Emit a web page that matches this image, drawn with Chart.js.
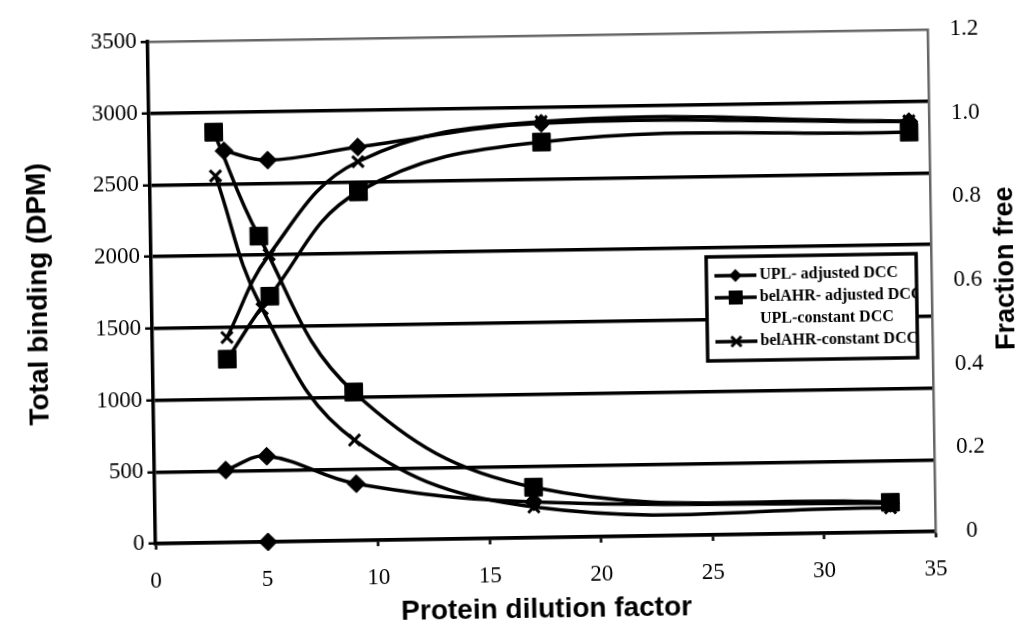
<!DOCTYPE html>
<html><head><meta charset="utf-8">
<script src="https://cdn.jsdelivr.net/npm/chart.js@4.4.1/dist/chart.umd.min.js"></script>
<style>
html,body{margin:0;padding:0;background:#fff;overflow:hidden}
#wrap{width:1028px;height:631px;transform:rotate(-0.9deg);transform-origin:514px 315.5px}
canvas{display:block;background:#fff}
</style></head><body>
<div id="wrap"><canvas id="c" width="1028" height="631"></canvas></div>
<script>
// ---- data ----
const xRange = [0, 35];
const xStep = 5;
const leftRange = [0, 3500];
const leftStep = 500;
const rightRange = [0, 1.2];
const rightStep = 0.2;

const legendLabels = ['UPL- adjusted DCC', 'belAHR- adjusted DCC', 'UPL-constant DCC', 'belAHR-constant DCC'];

// total binding (left axis, DPM)
const xUplAdjBinding = [3.2, 5.05, 9.05, 17, 33];
const uplAdjBinding  = [505, 597, 396, 250, 200];
const xBelAdjBinding = [2.9, 4.85, 9, 17, 33];
const belAdjBinding  = [2861, 2132, 1035, 352, 208];
const xUplConBinding = [5.05];
const uplConBinding  = [0];
const xBelConBinding = [2.95, 4.95, 9, 17, 33];
const belConBinding  = [2556, 1625, 700, 214, 169];

// fraction free (right axis)
const xFraction   = [3.35, 5.3, 9.35, 17.6, 34.1];
const uplAdjFree  = [0.936, 0.912, 0.94, 0.99, 0.98];
const belAdjFree  = [0.438, 0.587, 0.833, 0.945, 0.955];
const belConFree  = [0.49, 0.686, 0.905, 0.994, 0.982];

const pair = (xs, ys) => xs.map((x, i) => ({x: x, y: ys[i]}));

const markerStyles = [
  {pointStyle: 'rectRot', radius: 9, bw: 1},
  {pointStyle: 'rect', radius: 12.5, bw: 1},
  null,
  {pointStyle: 'crossRot', radius: 8, bw: 3}
];

function series(label, data, axis, m, showLine) {
  return {
    label: label, data: data, yAxisID: axis,
    showLine: showLine !== false, tension: 0.4,
    borderColor: '#000', backgroundColor: '#000', borderWidth: 3.5,
    pointStyle: m.pointStyle, pointRadius: m.radius, pointBorderWidth: m.bw,
    pointBackgroundColor: '#000', pointBorderColor: '#000', clip: false
  };
}

const datasets = [
  series(legendLabels[0], pair(xUplAdjBinding, uplAdjBinding), 'y', markerStyles[0]),
  series(legendLabels[1], pair(xBelAdjBinding, belAdjBinding), 'y', markerStyles[1]),
  series(legendLabels[2], pair(xUplConBinding, uplConBinding), 'y', markerStyles[0], false),
  series(legendLabels[3], pair(xBelConBinding, belConBinding), 'y', markerStyles[3]),
  series(legendLabels[0] + ' (fraction free)', pair(xFraction, uplAdjFree), 'y1', markerStyles[0]),
  series(legendLabels[1] + ' (fraction free)', pair(xFraction, belAdjFree), 'y1', markerStyles[1]),
  series(legendLabels[3] + ' (fraction free)', pair(xFraction, belConFree), 'y1', markerStyles[3])
];

function drawMarker(ctx, m, x, y) {
  ctx.save();
  ctx.fillStyle = '#000'; ctx.strokeStyle = '#000';
  ctx.beginPath();
  if (m.pointStyle === 'rectRot') {
    const r = m.radius;
    ctx.moveTo(x, y - r); ctx.lineTo(x + r, y); ctx.lineTo(x, y + r); ctx.lineTo(x - r, y); ctx.closePath(); ctx.fill();
  } else if (m.pointStyle === 'rect') {
    const h = m.radius;
    ctx.rect(x - h, y - h, 2 * h, 2 * h); ctx.fill();
  } else if (m.pointStyle === 'crossRot') {
    const r = m.radius;
    ctx.lineWidth = 3;
    ctx.moveTo(x - r, y - r); ctx.lineTo(x + r, y + r);
    ctx.moveTo(x + r, y - r); ctx.lineTo(x - r, y + r); ctx.stroke();
  }
  ctx.restore();
}

const legendMarkers = [
  {pointStyle: 'rectRot', radius: 6.5},
  {pointStyle: 'rect', radius: 7},
  null,
  {pointStyle: 'crossRot', radius: 5}
];

const boxLegend = {
  id: 'boxLegend',
  afterDatasetsDraw(chart) {
    const ctx = chart.ctx;
    const bx = 707, by = 260, bw = 210, bh = 104;
    ctx.save();
    ctx.fillStyle = '#fff';
    ctx.fillRect(bx, by, bw, bh);
    ctx.save();
    ctx.beginPath(); ctx.rect(bx, by, bw + 1, bh); ctx.clip();
    ctx.font = 'bold 16px "Liberation Serif"';
    ctx.fillStyle = '#000';
    ctx.textBaseline = 'middle';
    legendLabels.forEach((lab, i) => {
      const y = by + 19 + i * 22;
      const m = legendMarkers[i];
      if (m) {
        ctx.strokeStyle = '#000'; ctx.lineWidth = 3.5;
        ctx.beginPath(); ctx.moveTo(bx + 8, y); ctx.lineTo(bx + 50, y); ctx.stroke();
        drawMarker(ctx, m, bx + 29, y);
      }
      ctx.fillText(lab, bx + 53, y);
    });
    ctx.restore();
    ctx.lineWidth = 3.5; ctx.strokeStyle = '#000';
    ctx.strokeRect(bx, by, bw, bh);
    ctx.restore();
  }
};

const rightTitle = {
  id: 'rightTitle',
  afterDraw(chart) {
    const ctx = chart.ctx;
    ctx.save();
    ctx.translate(1007, 276);
    ctx.rotate(-Math.PI / 2);
    ctx.font = 'bold 27px "Liberation Sans"';
    ctx.fillStyle = '#000';
    ctx.textAlign = 'center';
    ctx.textBaseline = 'middle';
    ctx.fillText('Fraction free', 0, 0);
    ctx.restore();
  }
};

const tickFont = {family: '"Liberation Serif"', size: 23};
const titleFont = {family: '"Liberation Sans"', size: 28, weight: 'bold'};

new Chart(document.getElementById('c'), {
  type: 'scatter',
  data: {datasets: datasets},
  plugins: [boxLegend, rightTitle],
  options: {
    responsive: false, animation: false, devicePixelRatio: 1,
    layout: {padding: {left: 18, top: 32, right: 0, bottom: 0}},
    plugins: {legend: {display: false}, tooltip: {enabled: false}},
    scales: {
      x: {
        type: 'linear', min: xRange[0], max: xRange[1],
        ticks: {stepSize: xStep, font: tickFont, color: '#000', padding: 18, callback: v => String(v)},
        grid: {drawOnChartArea: false, drawTicks: true, tickLength: 6, tickWidth: 2.5, tickColor: '#000'},
        border: {display: true, color: '#000', width: 3.5},
        title: {display: true, text: 'Protein dilution factor', font: titleFont, color: '#000', padding: {top: 4, bottom: 4}},
        afterFit: s => { s.height = 93; }
      },
      y: {
        position: 'left', min: leftRange[0], max: leftRange[1],
        ticks: {stepSize: leftStep, font: tickFont, color: '#000', padding: 4, callback: v => String(v)},
        grid: {
          color: c => (c.tick && c.tick.value === leftRange[1]) ? '#666' : '#000',
          lineWidth: c => (c.tick && c.tick.value === leftRange[1]) ? 2.5 : 3.5,
          drawTicks: true, tickLength: 7, tickColor: '#000', tickWidth: 2.5
        },
        border: {display: true, color: '#000', width: 3.5},
        title: {display: true, text: 'Total binding (DPM)', font: titleFont, color: '#000', padding: {top: 4, bottom: 4}},
        afterFit: s => { s.width = 134; }
      },
      y1: {
        position: 'right', min: rightRange[0], max: rightRange[1],
        ticks: {stepSize: rightStep, font: tickFont, color: '#000', padding: 22, crossAlign: 'center'},
        grid: {drawOnChartArea: false, drawTicks: false},
        border: {display: true, color: '#666', width: 2.5, dash: [2, 2]},
        afterFit: s => { s.width = 96; }
      }
    }
  }
});
</script>
</body></html>
